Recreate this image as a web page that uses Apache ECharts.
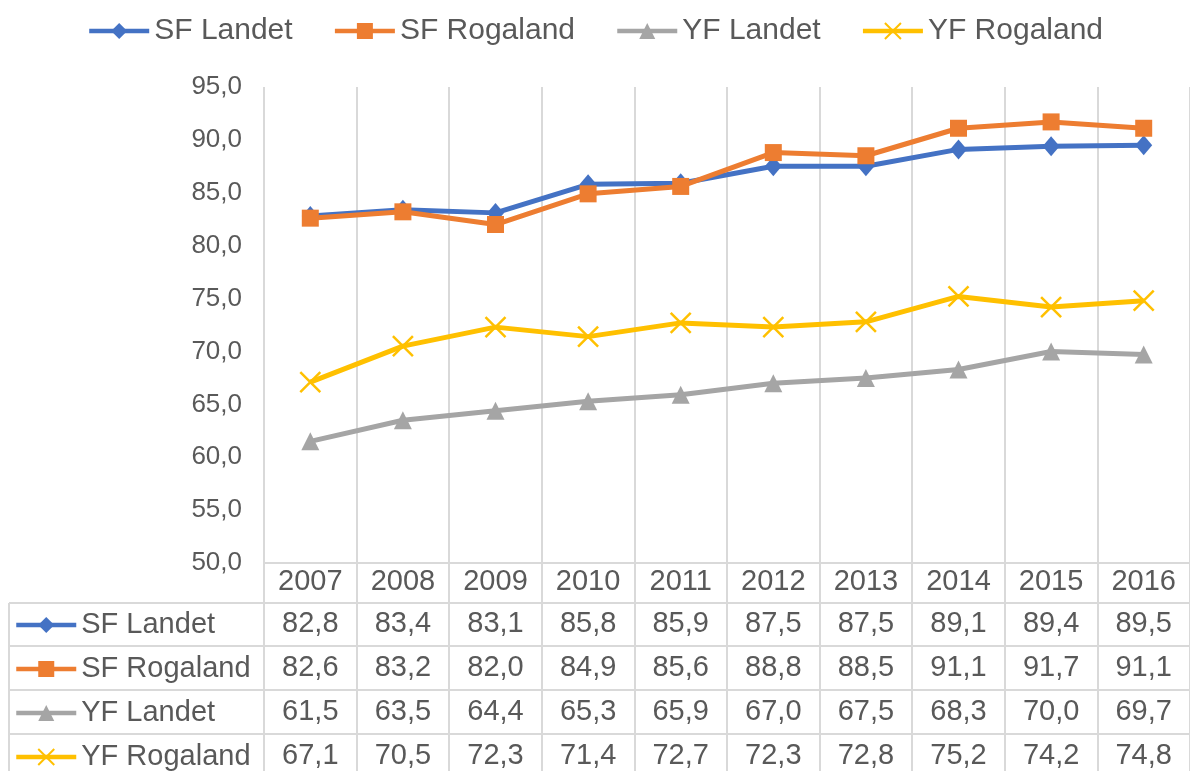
<!DOCTYPE html>
<html>
<head>
<meta charset="utf-8">
<script src="https://cdn.jsdelivr.net/npm/echarts@6/dist/echarts.min.js"></script>
<style>
  html, body { margin: 0; padding: 0; background: #fff; }
  #chart { width: 1190px; height: 771px; }
</style>
</head>
<body>
<div id="chart"></div>
<script>
const years = ['2007', '2008', '2009', '2010', '2011', '2012', '2013', '2014', '2015', '2016'];
const seriesNames = ['SF Landet', 'SF Rogaland', 'YF Landet', 'YF Rogaland'];
const sfLandet = [82.8, 83.4, 83.1, 85.8, 85.9, 87.5, 87.5, 89.1, 89.4, 89.5];
const sfRogaland = [82.6, 83.2, 82.0, 84.9, 85.6, 88.8, 88.5, 91.1, 91.7, 91.1];
const yfLandet = [61.5, 63.5, 64.4, 65.3, 65.9, 67.0, 67.5, 68.3, 70.0, 69.7];
const yfRogaland = [67.1, 70.5, 72.3, 71.4, 72.7, 72.3, 72.8, 75.2, 74.2, 74.8];
const yTicks = { min: 50, max: 95, step: 5 };

const values = [sfLandet, sfRogaland, yfLandet, yfRogaland];
const colors = ['#4472C4', '#ED7D31', '#A5A5A5', '#FFC000'];
const symbols = ['diamond', 'rect', 'triangle', 'path://M0,0L10,10M10,0L0,10'];
const symbolSizes = [[17, 20], 17, 18, 20];
const textColor = '#595959';
const gridColor = '#d9d9d9';
const fmt = v => v.toFixed(1).replace('.', ',');

const plotBottom = 563;
const rowCenters = [624, 668, 712, 756];

const myChart = echarts.init(document.getElementById('chart'));

// value rows of the data table, one extra x axis per series
const tableAxes = values.map((arr, i) => ({
  type: 'category',
  gridIndex: 0,
  position: 'bottom',
  offset: rowCenters[i] - plotBottom,
  data: arr.map(fmt),
  axisLine: { show: false },
  axisTick: { show: false },
  splitLine: { show: false },
  axisPointer: { show: false },
  axisLabel: {
    interval: 0,
    margin: 0,
    verticalAlign: 'middle',
    fontSize: 29,
    color: textColor
  }
}));

const option = {
  animation: false,
  textStyle: { fontFamily: 'Liberation Sans' },
  legend: [
    {
      data: seriesNames,
      top: 11,
      left: 'center',
      itemWidth: 60,
      itemHeight: 20,
      itemGap: 40,
      selectedMode: false,
      lineStyle: { width: 4.5 },
      textStyle: { fontSize: 30, color: textColor }
    },
    {
      data: seriesNames,
      orient: 'vertical',
      left: 14,
      top: 603,
      height: 300,
      itemWidth: 60,
      itemHeight: 20,
      itemGap: 0,
      padding: 0,
      selectedMode: false,
      lineStyle: { width: 4.5 },
      textStyle: { fontSize: 29, color: textColor, lineHeight: 44 }
    }
  ],
  grid: { left: 264, right: -8, top: 87, bottom: 771 - plotBottom },
  xAxis: [
    {
      type: 'category',
      data: years,
      boundaryGap: true,
      axisLine: { lineStyle: { color: gridColor, width: 2 } },
      axisTick: { show: true, interval: 0, length: 230, lineStyle: { color: gridColor, width: 2 } },
      splitLine: { show: true, interval: 0, lineStyle: { color: gridColor, width: 2 } },
      axisLabel: {
        interval: 0,
        margin: 19,
        verticalAlign: 'middle',
        fontSize: 29,
        color: textColor
      }
    }
  ].concat(tableAxes),
  yAxis: {
    type: 'value',
    min: yTicks.min,
    max: yTicks.max,
    interval: yTicks.step,
    axisLine: { show: false },
    axisTick: { show: false },
    splitLine: { show: false },
    axisLabel: { formatter: v => fmt(v), fontSize: 26, color: textColor, margin: 22 }
  },
  graphic: [
    { type: 'line', shape: { x1: 9, y1: 603, x2: 1190, y2: 603 }, style: { stroke: gridColor, lineWidth: 2 } },
    { type: 'line', shape: { x1: 9, y1: 646, x2: 1190, y2: 646 }, style: { stroke: gridColor, lineWidth: 2 } },
    { type: 'line', shape: { x1: 9, y1: 690, x2: 1190, y2: 690 }, style: { stroke: gridColor, lineWidth: 2 } },
    { type: 'line', shape: { x1: 9, y1: 734, x2: 1190, y2: 734 }, style: { stroke: gridColor, lineWidth: 2 } },
    { type: 'line', shape: { x1: 9, y1: 603, x2: 9, y2: 771 }, style: { stroke: gridColor, lineWidth: 2 } }
  ],
  series: values.map((arr, i) => ({
    name: seriesNames[i],
    type: 'line',
    data: arr,
    symbol: symbols[i],
    symbolSize: symbolSizes[i],
    showAllSymbol: true,
    lineStyle: { color: colors[i], width: 5 },
    itemStyle: i === 3
      ? { color: colors[i], borderColor: colors[i], borderWidth: 2.5 }
      : { color: colors[i] }
  }))
};

myChart.setOption(option);
window.onresize = function() {
  myChart.resize();
};
</script>
</body>
</html>
